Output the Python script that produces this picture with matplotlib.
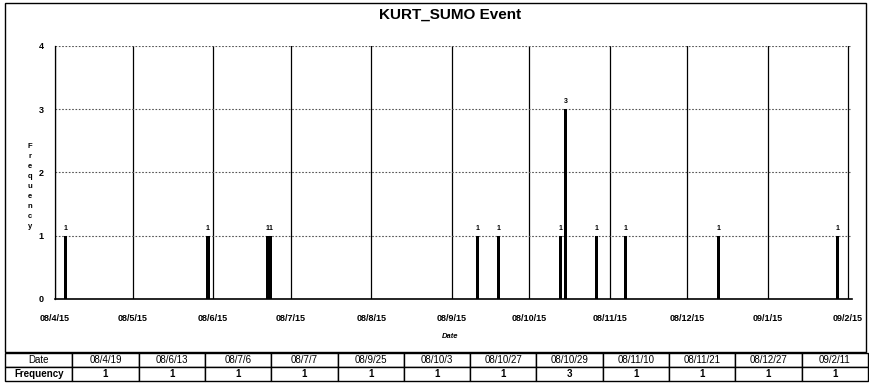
import matplotlib.pyplot as plt
import matplotlib.dates as mdates
from matplotlib.patches import Rectangle
from datetime import datetime

# event dates (yy/m/d) and how many events on each
dates = ["08/4/19", "08/6/13", "08/7/6", "08/7/7", "08/9/25", "08/10/3",
         "08/10/27", "08/10/29", "08/11/10", "08/11/21", "08/12/27", "09/2/11"]
freq = [1, 1, 1, 1, 1, 1, 1, 3, 1, 1, 1, 1]

# monthly ticks on the date axis
tick_dates = ["08/4/15", "08/5/15", "08/6/15", "08/7/15", "08/8/15", "08/9/15",
              "08/10/15", "08/11/15", "08/12/15", "09/1/15", "09/2/15"]


def to_date(s):
    y, m, d = s.split("/")
    return datetime(2000 + int(y), int(m), int(d))


def fmt_date(d):
    return f"{d.year % 100:02d}/{d.month}/{d.day}"


x = [to_date(s) for s in dates]
ticks = [to_date(s) for s in tick_dates]

fig = plt.figure(figsize=(8.7, 3.91), dpi=100)
plt.rcParams['font.family'] = ['Liberation Sans', 'DejaVu Sans']

# outer chart border
fig.patches.append(Rectangle((5 / 870, 1 - 352 / 391), 861 / 870, 349 / 391,
                             transform=fig.transFigure, fill=False,
                             edgecolor="black", linewidth=1.0))

ax = fig.add_axes([55 / 870, 1 - 299 / 391, 797 / 870, 253 / 391])
ax.bar(x, freq, width=1.3, color="black")
for xi, fi in zip(x, freq):
    ax.text(xi, fi + 0.06, str(fi), ha="center", va="bottom",
            fontsize=5, fontweight="bold")

ax.set_ylim(0, 4)
ax.set_yticks([0, 1, 2, 3, 4])
ax.set_xlim(ticks[0], mdates.num2date(mdates.date2num(ticks[-1]) + 1.5))
ax.set_xticks(ticks)
ax.set_xticklabels([fmt_date(t) for t in ticks])
ax.tick_params(axis="x", length=0, labelsize=6.5, pad=11)
ax.tick_params(axis="y", length=0, labelsize=6.5, pad=8)
for lab in ax.get_xticklabels() + ax.get_yticklabels():
    lab.set_fontweight("bold")

ax.grid(axis="x", color="black", linewidth=0.9, linestyle="-")
ax.grid(axis="y", color="#555555", linewidth=0.8, linestyle=(0, (1.5, 1.5)))
ax.set_axisbelow(True)
for side in ["top", "right"]:
    ax.spines[side].set_visible(False)
ax.spines["left"].set_linewidth(0.9)
ax.spines["bottom"].set_linewidth(1.2)

fig.text(450 / 870, 1 - 15 / 391, "KURT_SUMO Event", ha="center", va="center",
         fontsize=11, fontweight="bold")
fig.text(450 / 870, 1 - 337 / 391, "Date", ha="center", va="center",
         fontsize=5.5, fontweight="bold", style="italic")
fig.text(30 / 870, 1 - 186 / 391, "\n".join("Frequency"), ha="center",
         va="center", fontsize=5.5, fontweight="bold", linespacing=1.6)

# data table under the chart
tax = fig.add_axes([5 / 870, 1 - 381 / 391, 863 / 870, 28 / 391])
tax.axis("off")
cells = [["Date"] + dates, ["Frequency"] + [str(f) for f in freq]]
widths = [67 / 863] + [66 / 863] * len(dates)
tbl = tax.table(cellText=cells, colWidths=widths, cellLoc="center",
                bbox=[0, 0, 1, 1])
tbl.auto_set_font_size(False)
tbl.set_fontsize(7)
for (r, c), cell in tbl.get_celld().items():
    cell.set_linewidth(1.0)
    cell.set_edgecolor("black")
    cell.get_text().set_fontweight("bold" if r == 1 else "normal")

fig.savefig("out.png", dpi=100)
